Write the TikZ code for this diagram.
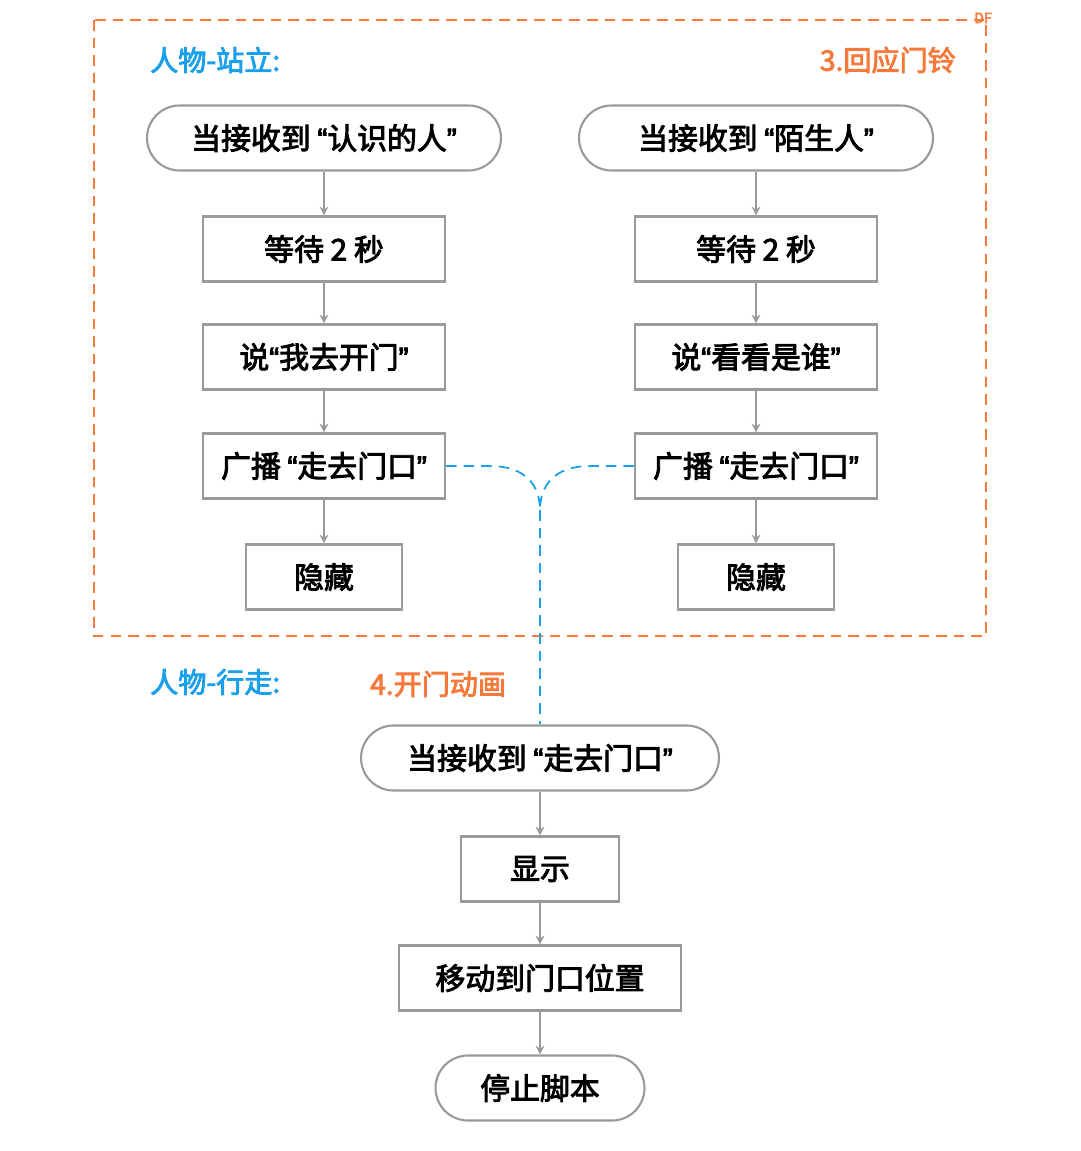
\documentclass[tikz,border=0pt]{standalone}
\usepackage{fontspec}
\setmainfont{Noto Sans CJK SC}[AutoFakeBold=3]
\newfontfamily\quotefont{Liberation Sans}[AutoFakeBold=3]
\newcommand{\oq}{{\quotefont “}}
\newcommand{\cq}{{\quotefont ”}}
\usetikzlibrary{positioning,arrows.meta}
\definecolor{lgray}{HTML}{9A9A9A}
\definecolor{dorange}{HTML}{F5793A}
\definecolor{dblue}{HTML}{1A9FEA}
\tikzset{
  box/.style = {draw=lgray, line width=1.2pt, fill=white, minimum height=1.3cm, inner sep=0pt,
                font=\fontsize{17}{19}\selectfont\bfseries},
  start/.style = {box, rounded corners=0.65cm},
  flow/.style = {lgray, line width=1.2pt, -{Stealth[length=5pt,width=5pt]}},
  link/.style = {dblue, line width=1pt, dash pattern=on 6pt off 4pt},
  title/.style = {font=\fontsize{16}{18}\selectfont\bfseries, anchor=west}
}
\begin{document}
\begin{tikzpicture}[x=0.02cm, y=-0.02cm]
\useasboundingbox (0,0) rectangle (1080,1151);
\draw[dorange, line width=1pt, dash pattern=on 6pt off 4pt] (94,20) rectangle (986,636);
\node[title, dblue] (t1) at (144,60) {人物-站立:};
\node[title, dorange, anchor=east] (t2) at (962,60) {3.回应门铃};
\node[dorange, font=\fontsize{8}{9}\selectfont\bfseries] (df) at (983,18) {DF};

% left column
\node[start, minimum width=7.08cm] (a1) at (324,138) {当接收到 \oq 认识的人\cq};
\node[box, minimum width=4.84cm] (a2) at (324,249) {等待 2 秒};
\node[box, minimum width=4.84cm] (a3) at (324,357) {说\oq 我去开门\cq};
\node[box, minimum width=4.84cm] (a4) at (324,466) {广播 \oq 走去门口\cq};
\node[box, minimum width=3.12cm] (a5) at (324,577) {隐藏};
% right column
\node[start, minimum width=7.08cm] (b1) at (756,138) {当接收到 \oq 陌生人\cq};
\node[box, minimum width=4.84cm] (b2) at (756,249) {等待 2 秒};
\node[box, minimum width=4.84cm] (b3) at (756,357) {说\oq 看看是谁\cq};
\node[box, minimum width=4.84cm] (b4) at (756,466) {广播 \oq 走去门口\cq};
\node[box, minimum width=3.12cm] (b5) at (756,577) {隐藏};

\foreach \i/\j in {1/2,2/3,3/4,4/5} {
  \draw[flow] (a\i) -- (a\j);
  \draw[flow] (b\i) -- (b\j);
}

\node[title, dblue] (t3) at (144,682) {人物-行走:};
\node[title, dorange] (t4) at (364,684) {4.开门动画};

\node[start, minimum width=7.16cm] (c1) at (540,758) {当接收到 \oq 走去门口\cq};
\node[box, minimum width=3.16cm] (c2) at (540,869) {显示};
\node[box, minimum width=5.64cm] (c3) at (540,978) {移动到门口位置};
\node[start, minimum width=4.18cm] (c4) at (540,1088) {停止脚本};
\foreach \i/\j in {1/2,2/3,3/4}
  \draw[flow] (c\i) -- (c\j);

\coordinate (m) at (540,510);
\draw[link] (a4.east) -- (490,466) .. controls (525,466) and (540,485) .. (m);
\draw[link] (b4.west) -- (590,466) .. controls (555,466) and (540,485) .. (m);
\draw[link] (m) -- (c1.north);
\end{tikzpicture}
\end{document}
